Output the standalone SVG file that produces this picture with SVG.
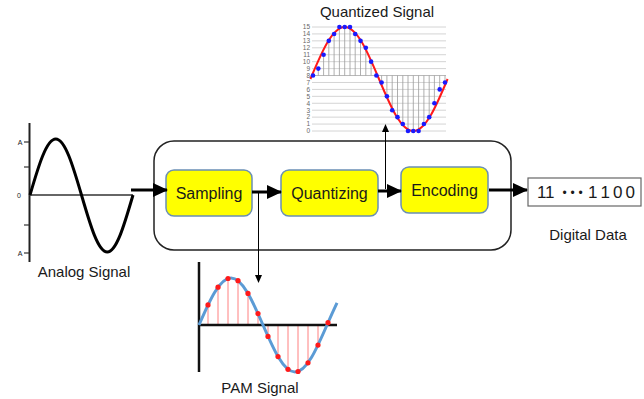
<svg xmlns="http://www.w3.org/2000/svg" width="644" height="399" viewBox="0 0 644 399">
<style>
text{font-family:"Liberation Sans",Arial,sans-serif;fill:#1a1a1a}
.lbl{font-size:15px}
.box{fill:#ffff00;stroke:#6a8fb5;stroke-width:1.5}
.btxt{font-size:16px;text-anchor:middle}
.thick{stroke:#000;stroke-width:3;fill:none}
.thin{stroke:#000;stroke-width:1;fill:none}
.grid{stroke:#d4d4d4;stroke-width:1}
.stemq{stroke:#9a9a9a;stroke-width:0.8}
.stemp{stroke:#ff8080;stroke-width:1}
.qn{font-size:6.5px;fill:#666;text-anchor:end}
.tk{stroke:#333;stroke-width:1.2}
</style>
<defs>
<marker id="ah" markerUnits="userSpaceOnUse" markerWidth="15" markerHeight="14" refX="14" refY="7" orient="auto"><path d="M0,0 L15,7 L0,14 Z" fill="#000"/></marker>
<marker id="ahs" markerUnits="userSpaceOnUse" markerWidth="8" markerHeight="8" refX="7" refY="4" orient="auto"><path d="M0,0.5 L8,4 L0,7.5 Z" fill="#000"/></marker>
</defs>

<rect width="644" height="399" fill="#fff"/>

<g id="analog-signal">
<line x1="29.5" y1="123" x2="29.5" y2="262" stroke="#222" stroke-width="2"/>
<line x1="29" y1="195" x2="133" y2="195" stroke="#333" stroke-width="1.5"/>
<line class="tk" x1="24" y1="142" x2="29" y2="142"/>
<line class="tk" x1="24" y1="167" x2="29" y2="167"/>
<line class="tk" x1="24" y1="225" x2="29" y2="225"/>
<line class="tk" x1="24" y1="253" x2="29" y2="253"/>
<text x="20" y="144.5" font-size="7" text-anchor="middle">A</text>
<text x="19" y="197.5" font-size="7" text-anchor="middle">0</text>
<text x="20" y="255.5" font-size="7" text-anchor="middle">A</text>
<path class="thick" d="M30,195 C38.4,166.3 46.43,139 55.75,139 C65.07,139 73.1,166.3 81.5,195 C89.9,223.7 97.930,252 107.25,252 C116.57,252 124.6,223.7 133,195"/>
<text class="lbl" x="84" y="277" text-anchor="middle">Analog Signal</text>
</g>

<g id="pipeline">
<rect x="154" y="141" width="357" height="109" rx="20" fill="none" stroke="#222" stroke-width="1.5"/>
</g>

<g id="sampling">
<rect class="box" x="166" y="170" width="86" height="46" rx="8"/>
<text class="btxt" x="209" y="199">Sampling</text>
</g>
<g id="quantizing">
<rect class="box" x="281" y="170" width="97" height="46" rx="8"/>
<text class="btxt" x="329.5" y="199">Quantizing</text>
</g>
<g id="encoding">
<rect class="box" x="401" y="167" width="87" height="46" rx="8"/>
<text class="btxt" x="444.5" y="196">Encoding</text>
</g>

<g id="digital-data">
<rect x="528" y="178" width="113" height="28" fill="#fff" stroke="#666" stroke-width="1.2"/>
<text y="198" font-size="17" fill="#444"><tspan x="537 545">11</tspan><tspan x="562.5 570.5 578.5" dy="-1.5" font-size="12">•••</tspan><tspan x="588 600.5 613 625.5" dy="1.5">1100</tspan></text>
<text class="lbl" x="588" y="240" text-anchor="middle">Digital Data</text>
</g>

<g id="quantized-signal">
<text class="lbl" x="377" y="17" text-anchor="middle">Quantized Signal</text>
<g class="grid">
<line x1="312" y1="131" x2="446" y2="131"/><line x1="312" y1="124.07" x2="446" y2="124.07"/>
<line x1="312" y1="117.13" x2="446" y2="117.13"/><line x1="312" y1="110.2" x2="446" y2="110.2"/>
<line x1="312" y1="103.27" x2="446" y2="103.27"/><line x1="312" y1="96.33" x2="446" y2="96.33"/>
<line x1="312" y1="89.4" x2="446" y2="89.4"/><line x1="312" y1="82.47" x2="446" y2="82.47"/>
<line x1="312" y1="75.53" x2="446" y2="75.53" stroke="#b8b8b8"/><line x1="312" y1="68.6" x2="446" y2="68.6"/>
<line x1="312" y1="61.67" x2="446" y2="61.67"/><line x1="312" y1="54.73" x2="446" y2="54.73"/>
<line x1="312" y1="47.8" x2="446" y2="47.8"/><line x1="312" y1="40.87" x2="446" y2="40.87"/>
<line x1="312" y1="33.93" x2="446" y2="33.93"/><line x1="312" y1="27" x2="446" y2="27"/>
</g>
<text class="qn" x="310" y="133.3">0</text><text class="qn" x="310" y="126.4">1</text>
<text class="qn" x="310" y="119.4">2</text><text class="qn" x="310" y="112.5">3</text>
<text class="qn" x="310" y="105.6">4</text><text class="qn" x="310" y="98.6">5</text>
<text class="qn" x="310" y="91.7">6</text><text class="qn" x="310" y="84.8">7</text>
<text class="qn" x="310" y="77.8">8</text><text class="qn" x="310" y="70.9">9</text>
<text class="qn" x="310" y="64">10</text><text class="qn" x="310" y="57">11</text>
<text class="qn" x="310" y="50.1">12</text><text class="qn" x="310" y="43.2">13</text>
<text class="qn" x="310" y="36.2">14</text><text class="qn" x="310" y="29.3">15</text>
<g class="stemq">
<line x1="318.3" y1="68.6" x2="318.3" y2="75.53"/><line x1="323.6" y1="54.73" x2="323.6" y2="75.53"/>
<line x1="328.8" y1="40.87" x2="328.8" y2="75.53"/><line x1="334.1" y1="33.93" x2="334.1" y2="75.53"/>
<line x1="339.4" y1="27" x2="339.4" y2="75.53"/><line x1="344.7" y1="27" x2="344.7" y2="75.53"/>
<line x1="350" y1="27" x2="350" y2="75.53"/><line x1="355.2" y1="33.93" x2="355.2" y2="75.53"/>
<line x1="360.5" y1="40.87" x2="360.5" y2="75.53"/><line x1="365.8" y1="47.8" x2="365.8" y2="75.53"/>
<line x1="371.1" y1="61.67" x2="371.1" y2="75.53"/>
<line x1="381.6" y1="82.47" x2="381.6" y2="75.53"/><line x1="386.9" y1="96.33" x2="386.9" y2="75.53"/>
<line x1="392.2" y1="110.2" x2="392.2" y2="75.53"/><line x1="397.5" y1="117.13" x2="397.5" y2="75.53"/>
<line x1="402.8" y1="124.07" x2="402.8" y2="75.53"/><line x1="408" y1="131" x2="408" y2="75.53"/>
<line x1="413.3" y1="131" x2="413.3" y2="75.53"/><line x1="418.6" y1="131" x2="418.6" y2="75.53"/>
<line x1="423.9" y1="124.07" x2="423.9" y2="75.53"/><line x1="429.2" y1="117.13" x2="429.2" y2="75.53"/>
<line x1="434.4" y1="103.27" x2="434.4" y2="75.53"/><line x1="439.7" y1="89.4" x2="439.7" y2="75.53"/>
<line x1="445" y1="82.47" x2="445" y2="75.53"/>
</g>
<path d="M310.4,79 C321.59,52.36 332.29,27 344.7,27 C357.11,27 367.81,52.36 379,79 C390.19,105.64 400.89,131 413.3,131 C425.71,131 436.41,105.64 447.6,79" fill="none" stroke="#ff1a1a" stroke-width="2"/>
<g fill="#1a1aff">
<circle cx="313" cy="75.53" r="2.3"/><circle cx="318.3" cy="68.6" r="2.3"/><circle cx="323.6" cy="54.73" r="2.3"/>
<circle cx="328.8" cy="40.87" r="2.3"/><circle cx="334.1" cy="33.93" r="2.3"/><circle cx="339.4" cy="27" r="2.3"/>
<circle cx="344.7" cy="27" r="2.3"/><circle cx="350" cy="27" r="2.3"/><circle cx="355.2" cy="33.93" r="2.3"/>
<circle cx="360.5" cy="40.87" r="2.3"/><circle cx="365.8" cy="47.8" r="2.3"/><circle cx="371.1" cy="61.67" r="2.3"/>
<circle cx="376.4" cy="75.53" r="2.3"/><circle cx="381.6" cy="82.47" r="2.3"/><circle cx="386.9" cy="96.33" r="2.3"/>
<circle cx="392.2" cy="110.2" r="2.3"/><circle cx="397.5" cy="117.13" r="2.3"/><circle cx="402.8" cy="124.07" r="2.3"/>
<circle cx="408" cy="131" r="2.3"/><circle cx="413.3" cy="131" r="2.3"/><circle cx="418.6" cy="131" r="2.3"/>
<circle cx="423.9" cy="124.07" r="2.3"/><circle cx="429.2" cy="117.13" r="2.3"/><circle cx="434.4" cy="103.27" r="2.3"/>
<circle cx="439.7" cy="89.4" r="2.3"/><circle cx="445" cy="82.47" r="2.3"/>
</g>
</g>

<g id="pam-signal">
<g class="stemp">
<line x1="208" y1="304.9" x2="208" y2="325"/><line x1="218" y1="287.2" x2="218" y2="325"/>
<line x1="228" y1="278.5" x2="228" y2="325"/><line x1="238" y1="280.7" x2="238" y2="325"/>
<line x1="248" y1="293.4" x2="248" y2="325"/><line x1="258" y1="313.6" x2="258" y2="325"/>
<line x1="268" y1="336.4" x2="268" y2="325"/><line x1="278" y1="356.6" x2="278" y2="325"/>
<line x1="288" y1="369.3" x2="288" y2="325"/><line x1="298" y1="371.5" x2="298" y2="325"/>
<line x1="308" y1="362.8" x2="308" y2="325"/><line x1="318" y1="345.1" x2="318" y2="325"/>
</g>
<line x1="199" y1="262" x2="199" y2="372" stroke="#111" stroke-width="2.5"/>
<line x1="199" y1="325" x2="337" y2="325" stroke="#111" stroke-width="2.5"/>
<path d="M199,325 C209.44,300.92 219.42,278 231,278 C242.58,278 252.56,300.92 263,325 C273.44,349.08 283.42,372 295,372 C306.58,372 316.56,349.08 327,325 Q332,313.5 337,302.9" fill="none" stroke="#5b9bd5" stroke-width="3"/>
<g fill="#ff1a1a">
<circle cx="208" cy="304.9" r="2.6"/><circle cx="218" cy="287.2" r="2.6"/><circle cx="228" cy="278.5" r="2.6"/>
<circle cx="238" cy="280.7" r="2.6"/><circle cx="248" cy="293.4" r="2.6"/><circle cx="258" cy="313.6" r="2.6"/>
<circle cx="268" cy="336.4" r="2.6"/><circle cx="278" cy="356.6" r="2.6"/><circle cx="288" cy="369.3" r="2.6"/>
<circle cx="298" cy="371.5" r="2.6"/><circle cx="308" cy="362.8" r="2.6"/><circle cx="318" cy="345.1" r="2.6"/>
<circle cx="328" cy="322.7" r="2.6"/>
</g>
<text class="lbl" x="260" y="393" text-anchor="middle">PAM Signal</text>
</g>

<g id="connectors">
<line class="thick" x1="131" y1="190" x2="167" y2="190" marker-end="url(#ah)"/>
<line class="thick" x1="252" y1="192" x2="281" y2="192" marker-end="url(#ah)"/>
<line class="thick" x1="378" y1="191" x2="401" y2="191" marker-end="url(#ah)"/>
<line class="thick" x1="489" y1="190" x2="527" y2="190" marker-end="url(#ah)"/>
<line class="thin" x1="385.5" y1="189" x2="385.5" y2="125" marker-end="url(#ahs)"/>
<line class="thin" x1="258.5" y1="192" x2="258.5" y2="282" marker-end="url(#ahs)"/>
</g>
</svg>
